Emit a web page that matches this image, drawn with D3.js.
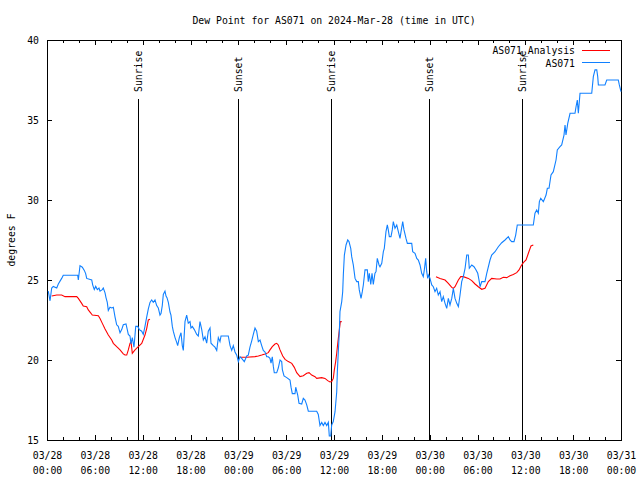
<!DOCTYPE html>
<html>
<head>
<meta charset="utf-8">
<script src="https://cdn.jsdelivr.net/npm/d3@7"></script>
<style>
  body { margin: 0; background: #fff; }
  svg text { font-family: "DejaVu Sans Mono", monospace; font-size: 9.8px; fill: #000; }
</style>
</head>
<body>
<div id="chart"></div>
<script>
// hours since 2024-03-28 00:00 UTC
var tStart = Date.UTC(2024, 2, 28);

var obsHours = [
  0.16,0.38,0.59,0.79,1.22,1.42,1.84,2.04,3.85,3.93,
  4.14,4.43,4.68,4.85,4.98,5.61,5.73,5.93,6.11,6.31,
  6.52,6.65,6.94,7.06,7.28,7.40,7.56,7.69,7.90,8.12,
  8.32,8.53,8.74,8.94,9.16,9.37,9.57,9.91,10.07,10.20,
  10.41,10.54,10.70,10.91,11.13,11.38,11.58,11.88,12.08,12.29,
  12.51,12.71,12.92,13.13,13.33,13.55,13.76,13.96,14.17,14.30,
  14.46,14.59,14.80,14.93,15.05,15.22,15.43,15.55,15.72,15.84,
  16.06,16.27,16.39,16.60,16.81,16.97,17.10,17.31,17.52,17.72,
  17.94,18.06,18.23,18.48,18.78,18.98,19.19,19.41,19.61,19.82,
  20.03,20.23,20.45,20.57,20.86,21.07,21.29,21.49,21.70,21.83,
  22.74,22.96,23.17,23.37,23.58,23.80,24.00,24.21,24.42,24.75,
  25.05,25.25,25.46,25.68,25.88,26.09,26.30,26.51,26.72,26.93,
  27.13,27.35,27.56,27.76,27.97,28.10,28.26,28.39,28.51,28.81,
  29.01,29.23,29.44,29.52,29.73,30.07,30.48,30.61,30.77,31.11,
  31.20,31.45,31.61,31.95,32.15,32.36,32.58,32.78,33.83,34.03,
  34.24,34.46,34.66,34.87,35.09,35.29,35.41,35.59,35.71,35.91,
  36.13,36.34,36.42,36.54,36.67,36.75,36.97,37.09,37.17,37.30,
  37.51,37.72,37.88,38.10,38.22,38.42,38.64,38.85,39.05,39.17,
  39.39,39.55,39.68,39.89,40.18,40.30,40.43,40.61,40.77,40.93,
  41.14,41.27,41.43,41.65,41.77,41.99,42.19,42.31,42.52,42.69,
  42.81,42.94,43.15,43.31,43.44,43.65,43.87,44.07,44.28,44.41,
  44.62,44.78,45.03,45.20,45.75,45.87,46.16,46.38,46.58,46.79,
  47.00,47.20,47.33,47.50,47.63,47.76,47.88,48.04,48.26,48.46,
  48.67,48.88,49.08,49.30,49.51,49.71,49.93,50.14,50.34,50.55,
  50.77,50.97,51.18,51.40,51.60,51.81,52.02,52.22,52.44,52.65,
  52.85,52.97,53.28,53.56,53.82,54.03,54.19,54.32,54.53,54.94,
  55.16,55.57,55.78,56.20,56.61,57.04,57.45,57.87,58.08,58.29,
  58.58,58.79,58.99,61.00,61.21,61.43,61.63,61.76,61.93,62.26,
  62.60,62.76,62.97,63.22,63.51,63.85,64.01,64.35,64.56,64.85,
  64.98,65.10,65.32,65.61,66.23,66.36,66.52,66.65,66.86,68.33,
  68.53,68.74,68.96,69.08,69.16,69.99,70.21,71.66,71.79,72.00
];
var obsDewF = [
  24.3,23.7,24.5,24.6,24.5,24.75,25.1,25.3,25.3,25.0,
  25.9,25.8,25.6,25.4,25.1,25.0,24.7,24.4,24.6,24.4,
  24.5,24.3,24.4,24.5,24.2,23.9,23.6,23.1,23.3,23.25,
  23.3,22.7,22.2,22.1,21.7,21.9,22.2,22.25,21.9,21.6,
  21.5,21.0,21.4,20.8,22.1,22.1,21.9,21.8,21.6,22.1,
  22.7,23.2,23.6,23.75,23.6,23.75,23.4,23.25,22.8,22.9,
  23.4,24.1,24.3,24.0,23.9,23.6,23.0,22.8,22.1,21.8,
  21.4,21.1,20.9,21.4,21.7,20.9,20.6,22.4,22.8,22.3,
  22.4,22.0,22.1,21.9,21.6,21.5,22.4,21.9,21.25,21.45,
  21.05,21.8,22.0,21.05,20.9,20.8,20.6,21.4,21.15,21.5,
  21.5,20.9,20.6,20.9,20.5,20.3,19.9,20.2,20.1,19.9,
  20.25,20.3,20.8,21.2,21.6,22.0,21.8,21.15,21.25,20.9,
  20.6,20.5,20.2,20.2,20.1,19.8,20.2,19.6,19.2,19.2,
  19.5,20.0,19.9,19.4,19.0,18.9,18.75,18.3,17.9,17.9,
  18.3,17.8,17.3,17.25,17.6,17.5,17.2,16.8,16.8,16.6,
  15.9,16.1,15.9,16.1,15.9,16.1,15.25,15.25,15.94,16.15,
  16.77,18.0,19.27,20.52,21.77,23.02,23.65,24.27,25.31,26.56,
  27.19,27.5,27.4,26.98,26.46,25.94,25.1,24.9,24.9,24.38,
  23.85,24.27,24.69,25.63,25.63,24.9,25.42,24.73,25.42,24.73,
  25.42,25.52,26.35,25.94,25.83,26.04,26.77,26.98,28.02,28.44,
  28.13,27.71,27.71,28.13,28.65,28.23,28.44,28.02,27.6,28.02,
  28.65,28.13,27.6,27.29,27.29,26.77,26.67,26.35,26.25,25.94,
  25.42,25.21,25.63,26.35,25.52,25.1,25.31,25.1,24.69,24.58,
  24.27,24.48,24.06,24.27,23.65,23.96,23.54,23.23,23.85,23.44,
  23.85,24.48,23.85,23.54,23.33,24.06,24.9,25.21,25.73,26.56,
  26.56,25.73,25.94,25.83,25.63,25.42,25.0,24.58,24.9,24.9,
  25.42,26.25,26.56,26.77,27.08,27.33,27.5,27.71,27.5,27.4,
  27.4,27.81,28.44,28.44,29.17,29.38,29.17,29.9,30.1,29.9,
  30.31,30.73,30.73,31.56,31.77,32.5,33.13,33.33,33.44,34.06,
  34.69,34.06,34.79,35.42,35.42,35.83,36.25,35.42,36.67,36.67,
  37.71,38.13,38.13,37.71,37.19,37.19,37.5,37.5,37.19,36.77
];

// analysis series, null = gap
var anaHours = [
  0.59,1.22,1.84,2.26,3.73,3.93,4.35,4.55,4.98,5.18,
  5.52,5.68,6.44,6.65,6.94,7.28,7.69,8.12,8.32,8.74,
  9.16,9.57,9.78,10.00,10.20,10.41,10.54,10.70,11.04,11.45,
  11.88,12.29,12.51,12.71,12.92,13.00,
  24.21,25.05,26.09,26.51,26.93,27.35,27.76,27.97,28.26,28.60,
  28.81,29.01,29.23,29.57,29.86,30.27,30.70,31.02,31.32,31.74,
  32.15,32.58,32.87,33.20,33.62,33.83,34.46,34.87,35.21,35.50,
  35.71,35.91,36.04,36.21,36.34,36.47,36.79,36.97,37.00,
  48.79,49.30,49.93,50.34,50.77,50.97,51.18,51.60,51.90,52.22,
  52.85,53.28,53.69,54.10,54.53,54.94,55.36,55.78,56.41,56.82,
  57.24,57.67,58.08,58.49,58.92,59.21,59.46,59.75,60.09,60.38,
  60.71,61.00
];
var anaDewF = [
  24.0,24.06,24.06,23.96,23.96,23.85,23.54,23.38,23.33,23.13,
  22.92,22.81,22.77,22.6,22.29,21.94,21.56,21.25,21.04,20.83,
  20.63,20.38,20.31,20.31,20.63,21.04,21.15,20.42,20.63,20.83,
  21.04,21.56,21.98,22.5,22.54,null,
  20.17,20.17,20.21,20.25,20.31,20.38,20.46,20.63,20.83,21.0,
  21.04,20.94,20.63,20.25,20.04,19.9,19.79,19.54,19.21,18.96,
  19.02,19.17,19.21,19.06,18.96,18.85,18.9,18.85,18.71,18.63,
  18.65,18.85,19.38,19.9,20.42,21.04,22.4,22.4,null,
  25.21,25.1,25.0,24.79,24.54,24.48,24.58,25.0,25.21,25.21,
  25.1,24.96,24.75,24.58,24.42,24.48,24.9,25.1,25.06,25.06,
  25.17,25.15,25.27,25.35,25.46,25.63,25.88,26.08,26.25,26.67,
  27.13,27.19
];

var eventHours = [11.45, 24.0, 35.57, 47.96, 59.53];
var eventLabels = ["Sunrise", "Sunset", "Sunrise", "Sunset", "Sunrise"];
var yTicks = [15, 20, 25, 30, 35, 40];
var seriesNames = ["AS071_Analysis", "AS071"];
var seriesColors = ["#ff0000", "#1080ff"];

function toDate(h) { return new Date(tStart + h * 3600e3); }

var width = 640, height = 480;
var margin = { top: 40, right: 19, bottom: 40, left: 47 };

var svg = d3.select("#chart").append("svg")
  .attr("width", width)
  .attr("height", height);

svg.append("rect").attr("width", width).attr("height", height).attr("fill", "#fff");

var x = d3.scaleUtc()
  .domain([toDate(0), toDate(72)])
  .range([margin.left, width - margin.right]);
var y = d3.scaleLinear()
  .domain([15, 40])
  .range([height - margin.bottom, margin.top]);

// minor ticks every 2 h, bottom and top
svg.append("g")
  .attr("transform", "translate(0," + y(15) + ")")
  .call(d3.axisBottom(x).ticks(d3.utcHour.every(2)).tickSize(-3).tickFormat(""))
  .call(function (g) { g.select(".domain").remove(); });
svg.append("g")
  .attr("transform", "translate(0," + y(40) + ")")
  .call(d3.axisTop(x).ticks(d3.utcHour.every(2)).tickSize(-3).tickFormat(""))
  .call(function (g) { g.select(".domain").remove(); });

// major ticks every 6 h with two-line labels
var xAxis = svg.append("g")
  .attr("transform", "translate(0," + y(15) + ")")
  .call(d3.axisBottom(x).ticks(d3.utcHour.every(6)).tickSize(-5).tickPadding(12)
    .tickFormat(d3.utcFormat("%m/%d")));
xAxis.select(".domain").remove();
xAxis.selectAll(".tick text").each(function (d) {
  var t = d3.select(this).text("").attr("dy", null).attr("y", 0);
  t.append("tspan").attr("x", 0).attr("y", 19).text(d3.utcFormat("%m/%d")(d));
  t.append("tspan").attr("x", 0).attr("y", 34).text(d3.utcFormat("%H:%M")(d));
});
svg.append("g")
  .attr("transform", "translate(0," + y(40) + ")")
  .call(d3.axisTop(x).ticks(d3.utcHour.every(6)).tickSize(-5).tickFormat(""))
  .call(function (g) { g.select(".domain").remove(); });

// y axes
var yAxis = svg.append("g")
  .attr("transform", "translate(" + x.range()[0] + ",0)")
  .call(d3.axisLeft(y).tickValues(yTicks).tickSize(-5).tickPadding(8));
yAxis.select(".domain").remove();
svg.append("g")
  .attr("transform", "translate(" + x.range()[1] + ",0)")
  .call(d3.axisRight(y).tickValues(yTicks).tickSize(-5).tickFormat(""))
  .call(function (g) { g.select(".domain").remove(); });

svg.selectAll(".tick text").attr("font-family", null).attr("font-size", null);
svg.selectAll(".tick line").attr("stroke", "#000").attr("shape-rendering", "crispEdges");

// border
svg.append("rect")
  .attr("x", x.range()[0]).attr("y", y(40))
  .attr("width", x.range()[1] - x.range()[0])
  .attr("height", y(15) - y(40))
  .attr("fill", "none").attr("stroke", "#000")
  .attr("shape-rendering", "crispEdges");

// sunrise / sunset markers
var ev = svg.append("g").selectAll("g")
  .data(d3.zip(eventHours, eventLabels))
  .enter().append("g");
ev.append("line")
  .attr("x1", function (d) { return Math.round(x(toDate(d[0]))) + 0.5; })
  .attr("x2", function (d) { return Math.round(x(toDate(d[0]))) + 0.5; })
  .attr("y1", 99).attr("y2", y(15))
  .attr("stroke", "#000").attr("shape-rendering", "crispEdges");
ev.append("text")
  .attr("transform", function (d) {
    return "translate(" + (x(toDate(d[0])) + 4) + ",92) rotate(-90)";
  })
  .text(function (d) { return d[1]; });

// data lines
var line = d3.line()
  .defined(function (d) { return d[1] != null; })
  .x(function (d) { return x(toDate(d[0])); })
  .y(function (d) { return y(d[1]); });

svg.append("path")
  .datum(d3.zip(anaHours, anaDewF))
  .attr("d", line)
  .attr("fill", "none").attr("stroke", seriesColors[0]).attr("stroke-width", 1.1);

svg.append("path")
  .datum(d3.zip(obsHours, obsDewF))
  .attr("d", line)
  .attr("fill", "none").attr("stroke", seriesColors[1]).attr("stroke-width", 1.1);

// legend
var leg = svg.append("g").selectAll("g")
  .data(seriesNames)
  .enter().append("g")
  .attr("transform", function (d, i) { return "translate(0," + (50 + i * 12.5) + ")"; });
leg.append("text")
  .attr("x", 575).attr("y", 4)
  .attr("text-anchor", "end")
  .text(function (d) { return d; });
leg.append("line")
  .attr("x1", 582).attr("x2", 610)
  .attr("y1", 0).attr("y2", 0)
  .attr("stroke", function (d, i) { return seriesColors[i]; })
  .attr("shape-rendering", "crispEdges");

// title and y label
svg.append("text")
  .attr("x", 334).attr("y", 24)
  .attr("text-anchor", "middle")
  .text("Dew Point for AS071 on 2024-Mar-28 (time in UTC)");
svg.append("text")
  .attr("transform", "translate(15,240) rotate(-90)")
  .attr("text-anchor", "middle")
  .text("degrees F");
</script>
</body>
</html>
